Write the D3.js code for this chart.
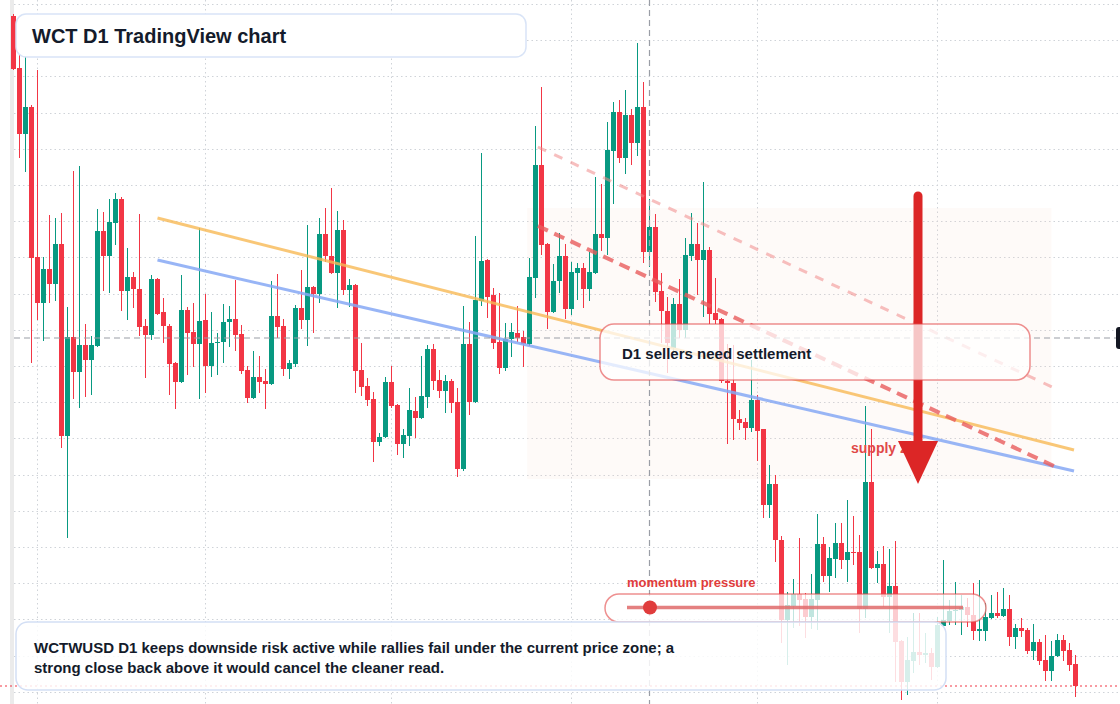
<!DOCTYPE html>
<html>
<head>
<meta charset="utf-8">
<script src="https://cdn.jsdelivr.net/npm/d3@7"></script>
<style>
  html, body { margin: 0; padding: 0; background: #fff; }
  svg { display: block; font-family: "Liberation Sans", Arial, sans-serif; }
</style>
</head>
<body>
<svg id="chart" width="1120" height="704"></svg>
<script>
// WCTWUSD daily candles, first bar 28 Jan
const startDate = new Date(2026, 0, 28);

const open = [0.492,0.466,0.433,0.4465,0.3715,0.3485,0.3655,0.358,0.378,0.282,
  0.3315,0.314,0.3275,0.32,0.327,0.3845,0.372,0.3885,0.4005,0.3545,
  0.3615,0.3555,0.337,0.3325,0.3605,0.344,0.337,0.3185,0.309,0.345,
  0.334,0.328,0.34,0.317,0.3285,0.329,0.339,0.3405,0.333,0.315,
  0.301,0.3115,0.3095,0.308,0.342,0.337,0.3155,0.318,0.346,0.34,
  0.3565,0.353,0.383,0.372,0.3635,0.385,0.355,0.3575,0.315,0.307,
  0.3005,0.279,0.2815,0.309,0.2975,0.278,0.282,0.2945,0.291,0.3015,
  0.3255,0.31,0.3045,0.3095,0.299,0.2655,0.328,0.299,0.3495,0.37,
  0.3525,0.329,0.316,0.3305,0.3335,0.3315,0.328,0.361,0.4175,0.378,
  0.344,0.3595,0.372,0.3455,0.3635,0.366,0.3555,0.3635,0.383,0.381,
  0.4245,0.444,0.421,0.4425,0.4285,0.4465,0.374,0.3865,0.3545,0.3445,
  0.326,0.348,0.335,0.372,0.378,0.37,0.375,0.3435,0.3405,0.3095,
  0.3085,0.2905,0.289,0.286,0.3,0.2855,0.2475,0.258,0.23,0.19,
  0.197,0.203,0.2005,0.1915,0.2,0.228,0.212,0.2205,0.2285,0.22,
  0.224,0.224,0.1955,0.259,0.216,0.218,0.2015,0.207,0.1795,0.159,
  0.1695,0.174,0.1725,0.1735,0.1665,0.187,0.1895,0.1945,0.195,0.1965,
  0.1925,0.1845,0.1845,0.191,0.1935,0.192,0.1955,0.1815,0.186,0.185,
  0.1745,0.179,0.17,0.1645,0.172,0.18,0.175,0.168];

const high = [0.493,0.48,0.475,0.4475,0.465,0.3715,0.3925,0.391,0.3935,0.3465,
  0.4145,0.417,0.338,0.332,0.3955,0.394,0.4005,0.4035,0.4015,0.376,
  0.364,0.393,0.3405,0.3625,0.361,0.351,0.338,0.319,0.3625,0.3465,
  0.3485,0.386,0.353,0.344,0.3335,0.348,0.347,0.36,0.3375,0.317,
  0.3245,0.322,0.3155,0.3595,0.363,0.3405,0.32,0.3475,0.365,0.3875,
  0.357,0.391,0.396,0.406,0.3945,0.39,0.3605,0.358,0.3285,0.311,
  0.304,0.2835,0.3115,0.317,0.298,0.2855,0.306,0.3015,0.322,0.3275,
  0.328,0.315,0.3125,0.3105,0.306,0.347,0.339,0.382,0.4235,0.3705,
  0.356,0.3535,0.3385,0.3385,0.347,0.3345,0.371,0.437,0.4565,0.3785,
  0.368,0.3835,0.378,0.369,0.3685,0.3685,0.374,0.4115,0.408,0.439,
  0.449,0.45,0.455,0.4455,0.4785,0.459,0.4005,0.393,0.3635,0.3515,
  0.351,0.3605,0.381,0.3935,0.3885,0.409,0.3765,0.361,0.341,0.328,
  0.3275,0.295,0.291,0.32,0.3025,0.2855,0.2675,0.2625,0.232,0.204,
  0.2105,0.231,0.2035,0.213,0.243,0.2315,0.2265,0.2385,0.2385,0.25,
  0.242,0.2325,0.297,0.2855,0.2245,0.227,0.2255,0.2295,0.18,0.1815,
  0.1935,0.1935,0.1835,0.176,0.1915,0.22,0.2,0.209,0.2025,0.201,
  0.2085,0.21,0.1985,0.2025,0.204,0.206,0.2025,0.188,0.191,0.186,
  0.188,0.1805,0.1825,0.1795,0.183,0.1825,0.1785,0.1725];

const low = [0.465,0.421,0.414,0.3185,0.34,0.3295,0.3485,0.3495,0.276,0.231,
  0.3005,0.296,0.3015,0.3025,0.3265,0.3545,0.3535,0.3775,0.3445,0.34,
  0.346,0.332,0.311,0.33,0.3425,0.3285,0.3025,0.2955,0.3085,0.3125,
  0.3165,0.3005,0.3035,0.3115,0.3125,0.3185,0.3265,0.3245,0.313,0.2985,
  0.3005,0.3035,0.2955,0.3075,0.331,0.312,0.3105,0.3165,0.3355,0.327,
  0.3335,0.3485,0.369,0.363,0.346,0.3525,0.3465,0.3035,0.302,0.297,
  0.269,0.277,0.281,0.296,0.2725,0.271,0.277,0.281,0.2905,0.296,
  0.305,0.301,0.2935,0.2935,0.2615,0.2645,0.2925,0.2985,0.347,0.341,
  0.3255,0.313,0.3145,0.3215,0.329,0.3165,0.327,0.351,0.3725,0.3355,
  0.3435,0.3535,0.3405,0.3425,0.35,0.346,0.3495,0.363,0.3745,0.3725,
  0.398,0.4185,0.413,0.4175,0.422,0.3685,0.3665,0.349,0.3285,0.3135,
  0.324,0.331,0.331,0.3695,0.3525,0.3415,0.338,0.338,0.3085,0.278,
  0.28,0.285,0.28,0.284,0.2695,0.241,0.241,0.219,0.1785,0.1675,
  0.186,0.187,0.181,0.1855,0.185,0.209,0.204,0.211,0.2155,0.209,
  0.2175,0.1835,0.191,0.2155,0.2085,0.1965,0.1835,0.159,0.15,0.1525,
  0.1635,0.1675,0.1685,0.16,0.166,0.1865,0.1875,0.1875,0.1825,0.1865,
  0.18,0.1795,0.1795,0.1905,0.191,0.1915,0.177,0.1755,0.1815,0.173,
  0.17,0.1675,0.1595,0.1595,0.1715,0.1695,0.1645,0.1515];

const close = [0.4655,0.433,0.4465,0.371,0.3485,0.3655,0.358,0.378,0.282,0.3315,
  0.314,0.3275,0.32,0.3275,0.3845,0.372,0.389,0.4005,0.3545,0.3615,
  0.3555,0.3365,0.3325,0.3605,0.343,0.337,0.318,0.309,0.345,0.3335,
  0.328,0.3395,0.317,0.3285,0.329,0.339,0.3405,0.3325,0.3145,0.301,
  0.3115,0.309,0.308,0.342,0.3365,0.3155,0.3185,0.346,0.34,0.3565,
  0.353,0.383,0.372,0.3635,0.385,0.355,0.3575,0.3145,0.3065,0.3,
  0.279,0.2815,0.309,0.297,0.278,0.2825,0.295,0.291,0.302,0.3255,
  0.3095,0.3045,0.3095,0.2985,0.2655,0.328,0.299,0.35,0.3695,0.3515,
  0.3285,0.316,0.3305,0.334,0.331,0.328,0.3615,0.4175,0.3775,0.344,
  0.3595,0.372,0.3455,0.364,0.366,0.3555,0.364,0.383,0.381,0.425,
  0.444,0.421,0.4425,0.4285,0.4465,0.374,0.3865,0.354,0.3445,0.3285,
  0.348,0.335,0.3725,0.378,0.37,0.375,0.343,0.34,0.3095,0.3085,
  0.2905,0.2885,0.286,0.3,0.2845,0.2475,0.258,0.23,0.19,0.1975,
  0.203,0.2,0.1915,0.2005,0.228,0.212,0.221,0.2285,0.22,0.224,
  0.2235,0.1955,0.259,0.216,0.218,0.2015,0.207,0.179,0.159,0.17,
  0.174,0.1725,0.1735,0.1665,0.1875,0.19,0.1945,0.195,0.1965,0.1925,
  0.1845,0.1855,0.1915,0.1935,0.192,0.1955,0.1815,0.186,0.1845,0.1745,
  0.179,0.1695,0.1645,0.172,0.18,0.1745,0.1675,0.157];

// drawings: [bar index, price]
const orangeLine = [[24, 0.391], [176.75, 0.275]];
const blueLine = [[24, 0.37], [176.75, 0.2645]];
const redDashMain = [[87.4, 0.387], [173.4, 0.267]];
const redDashLight = [[87.4, 0.4265], [173.1, 0.3065]];
const supplyZone = {from: 85.6, to: 173, top: 0.396, bottom: 0.2605};
const crosshair = {bar: 106, price: 0.331};
const arrow = {bar: 150.75, top: 0.402, shaftEnd: 0.2775, headTop: 0.2795, tip: 0.258};
const lastPrice = close[close.length - 1];

const W = 1120, H = 704;
const green = "#089981", red = "#f23645";

const dates = open.map((_, i) => d3.timeDay.offset(startDate, i));
const x = d3.scaleLinear().domain([0, open.length - 1]).range([13.5, 1075.5]);
const y = d3.scaleLinear().domain([0.148, 0.5]).range([H, 0]);

const svg = d3.select("#chart");
svg.append("rect").attr("width", W).attr("height", H).attr("fill", "#fff");

// left pane edge
svg.append("rect").attr("x", 10).attr("y", 0).attr("width", 4).attr("height", H).attr("fill", "#ebebeb");

// grid
const grid = svg.append("g").attr("stroke", "#cfd3d8").attr("stroke-dasharray", "1.5,3");
const gridPrices = d3.range(0.498, 0.14, -0.0181);
grid.selectAll(".gh").data(gridPrices).enter().append("line")
  .attr("x1", 14).attr("x2", W)
  .attr("y1", d => Math.round(y(d)) + 0.5).attr("y2", d => Math.round(y(d)) + 0.5);
const monthStarts = dates.map((d, i) => d.getDate() === 1 ? i : null).filter(i => i !== null);
grid.selectAll(".gv").data(monthStarts).enter().append("line")
  .attr("x1", d => x(d)).attr("x2", d => x(d))
  .attr("y1", 0).attr("y2", H);

// supply zone
svg.append("rect")
  .attr("x", x(supplyZone.from)).attr("y", y(supplyZone.top))
  .attr("width", x(supplyZone.to) - x(supplyZone.from))
  .attr("height", y(supplyZone.bottom) - y(supplyZone.top))
  .attr("fill", "#f5dcc8").attr("opacity", 0.13);

// candles
const candles = svg.append("g").selectAll("g").data(open).enter().append("g");
candles.append("line")
  .attr("x1", (d, i) => x(i)).attr("x2", (d, i) => x(i))
  .attr("y1", (d, i) => y(high[i])).attr("y2", (d, i) => y(low[i]))
  .attr("stroke", (d, i) => close[i] >= open[i] ? green : red).attr("stroke-width", 1);
candles.append("rect")
  .attr("x", (d, i) => x(i) - 2.5).attr("width", 5)
  .attr("y", (d, i) => y(Math.max(open[i], close[i])))
  .attr("height", (d, i) => Math.max(1, Math.abs(y(open[i]) - y(close[i]))))
  .attr("fill", (d, i) => close[i] >= open[i] ? green : red);

// trend lines
const lineGen = d3.line().x(d => x(d[0])).y(d => y(d[1]));
svg.append("path").attr("d", lineGen(orangeLine)).attr("stroke", "#f7b955")
  .attr("stroke-width", 3).attr("opacity", 0.8).attr("fill", "none");
svg.append("path").attr("d", lineGen(blueLine)).attr("stroke", "#86a8f5")
  .attr("stroke-width", 3).attr("opacity", 0.85).attr("fill", "none");
svg.append("path").attr("d", lineGen(redDashLight)).attr("stroke", "#f08a8a")
  .attr("stroke-width", 3).attr("stroke-dasharray", "9,9").attr("opacity", 0.55).attr("fill", "none");
svg.append("path").attr("d", lineGen(redDashMain)).attr("stroke", "#e85c5c")
  .attr("stroke-width", 4).attr("stroke-dasharray", "11,7").attr("opacity", 0.8).attr("fill", "none");

// crosshair
const ch = svg.append("g").attr("stroke", "#9a9ea6").attr("stroke-width", 1.2).attr("stroke-dasharray", "6,4");
ch.append("line").attr("x1", x(crosshair.bar)).attr("x2", x(crosshair.bar)).attr("y1", 0).attr("y2", H);
ch.append("line").attr("x1", 14).attr("x2", W).attr("y1", y(crosshair.price)).attr("y2", y(crosshair.price));
svg.append("rect").attr("x", 1116).attr("y", y(crosshair.price) - 11).attr("width", 12).attr("height", 22)
  .attr("rx", 3).attr("fill", "#131722");

// last price line
svg.append("line").attr("x1", 0).attr("x2", W)
  .attr("y1", y(lastPrice)).attr("y2", y(lastPrice))
  .attr("stroke", red).attr("stroke-dasharray", "2,3").attr("stroke-width", 1.2);

// supply zone label
svg.append("text").attr("x", 851).attr("y", 453)
  .attr("fill", "#e04848").attr("font-size", 14).attr("font-weight", "bold").text("supply zone");

// arrow
svg.append("line").attr("x1", x(arrow.bar)).attr("x2", x(arrow.bar))
  .attr("y1", y(arrow.top)).attr("y2", y(arrow.shaftEnd))
  .attr("stroke", "#dc2626").attr("stroke-width", 9).attr("stroke-linecap", "round");
svg.append("path")
  .attr("d", `M${x(arrow.bar) - 20},${y(arrow.headTop)} L${x(arrow.bar) + 20},${y(arrow.headTop)} L${x(arrow.bar)},${y(arrow.tip)} Z`)
  .attr("fill", "#dc2626");

// callout
svg.append("rect").attr("x", 600).attr("y", 324).attr("width", 430).attr("height", 56).attr("rx", 14)
  .attr("fill", "rgba(255,255,255,0.74)").attr("stroke", "rgba(226,70,70,0.6)").attr("stroke-width", 1.5);
svg.append("text").attr("x", 622).attr("y", 359).attr("fill", "#141b2b")
  .attr("font-size", 15).attr("font-weight", "bold").text("D1 sellers need settlement");

// momentum pill
svg.append("text").attr("x", 627).attr("y", 587).attr("fill", "#e03c3c")
  .attr("font-size", 13).attr("font-weight", "bold").text("momentum pressure");
svg.append("rect").attr("x", 605).attr("y", 594).attr("width", 381).attr("height", 28).attr("rx", 14)
  .attr("fill", "rgba(255,255,255,0.75)").attr("stroke", "rgba(226,70,70,0.6)").attr("stroke-width", 1.5);
svg.append("line").attr("x1", 627).attr("x2", 963).attr("y1", 607.5).attr("y2", 607.5)
  .attr("stroke", "#e06a6a").attr("stroke-width", 3.5).attr("opacity", 0.85);
svg.append("circle").attr("cx", 650).attr("cy", 607.5).attr("r", 7).attr("fill", "#e03c3c");

// note box
svg.append("rect").attr("x", 16).attr("y", 622).attr("width", 930).attr("height", 68).attr("rx", 12)
  .attr("fill", "rgba(255,255,255,0.84)").attr("stroke", "#d3dff5").attr("stroke-width", 1.5);
const note = svg.append("text").attr("fill", "#141b2b").attr("font-size", 15).attr("font-weight", "bold");
note.append("tspan").attr("x", 34).attr("y", 653)
  .text("WCTWUSD D1 keeps downside risk active while rallies fail under the current price zone; a");
note.append("tspan").attr("x", 34).attr("y", 673)
  .text("strong close back above it would cancel the cleaner read.");

// title
svg.append("rect").attr("x", 16).attr("y", 14).attr("width", 510).attr("height", 43).attr("rx", 10)
  .attr("fill", "#fff").attr("stroke", "#d9e4f7").attr("stroke-width", 1.5);
svg.append("text").attr("x", 32).attr("y", 43).attr("fill", "#141b2b")
  .attr("font-size", 20).attr("font-weight", "bold").text("WCT D1 TradingView chart");
</script>
</body>
</html>
